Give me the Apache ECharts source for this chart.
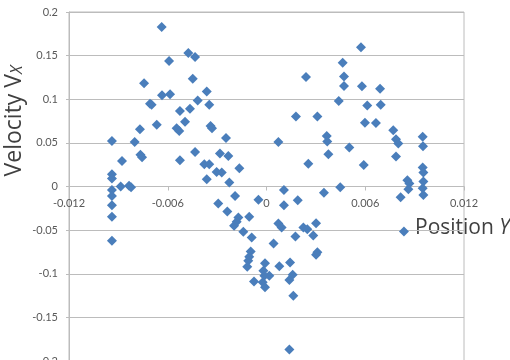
<!DOCTYPE html>
<html>
<head>
<meta charset="utf-8">
<script src="https://cdn.jsdelivr.net/npm/echarts@6/dist/echarts.min.js"></script>
<style>
html,body{margin:0;padding:0;background:#fff;}
#chart{width:510px;height:360px;}
</style>
</head>
<body>
<div id="chart"></div>
<script>
// Position Y values
var xValues = [
 -0.00939,-0.00939,-0.00939,-0.00939,-0.00939,-0.00939,-0.00939,-0.00939,
 -0.00886,-0.00835,-0.00823,-0.00878,-0.00801,-0.00769,-0.00766,-0.00756,
 -0.00744,-0.00708,-0.00698,-0.00667,-0.00637,-0.00635,-0.00586,-0.00592,
 -0.00475,-0.00434,-0.00448,-0.00363,-0.00418,-0.00348,-0.00526,-0.00465,
 -0.00495,-0.00546,-0.00530,-0.00340,-0.00331,-0.00246,-0.00526,-0.00434,
 -0.00378,-0.00348,-0.00283,-0.00232,-0.00165,-0.00303,-0.00272,-0.00363,
 -0.00226,-0.00191,-0.00293,-0.00238,-0.00049,-0.00105,-0.00171,-0.00181,
 -0.00197,-0.00141,-0.00090,0.00043,0.00106,0.00106,0.00190,0.00349,
 0.00072,0.00092,0.00224,0.00248,0.00301,0.00284,0.00176,-0.00096,
 -0.00105,-0.00111,-0.00117,0.00309,0.00301,-0.00009,0.00078,0.00143,
 -0.00019,0.00017,-0.00013,0.00159,0.00139,-0.00076,-0.00023,-0.00009,
 0.00163,0.00139,0.00072,0.00179,0.00309,0.00240,0.00366,0.00369,
 0.00376,0.00254,0.00439,0.00463,0.00471,0.00471,0.00574,0.00580,
 0.00690,0.00612,0.00694,0.00598,0.00665,0.00770,0.00787,0.00801,
 0.00503,0.00591,0.00949,0.00951,0.00949,0.00953,0.00953,0.00949,
 0.00953,0.00856,0.00868,0.00862,0.00815,0.00448,0.00835,0.00787
];
// Velocity Vx values
var yValues = [
 0.0522,0.0141,0.0092,-0.0039,-0.0108,-0.0214,-0.0348,-0.0622,
 0.0000,0.0009,-0.0008,0.0293,0.0510,0.0656,0.0364,0.0335,
 0.1182,0.0947,0.0936,0.0709,0.1828,0.1045,0.1056,0.1437,
 0.1531,0.1483,0.1236,0.1090,0.0987,0.0936,0.0865,0.0892,
 0.0741,0.0667,0.0636,0.0693,0.0667,0.0556,0.0301,0.0396,
 0.0255,0.0255,0.0378,0.0350,0.0209,0.0167,0.0160,0.0084,
 0.0046,-0.0108,-0.0195,-0.0286,-0.0151,-0.0348,-0.0355,-0.0405,
 -0.0451,-0.0519,-0.0584,-0.0654,-0.0039,-0.0214,-0.0157,-0.0073,
 -0.0423,-0.0469,-0.0469,-0.0489,-0.0420,-0.0561,-0.0572,-0.0744,
 -0.0805,-0.0851,-0.0920,-0.0755,-0.0783,-0.0881,-0.0915,-0.0870,
 -0.0966,-0.1023,-0.1023,-0.1011,-0.1072,-0.1089,-0.1098,-0.1156,
 -0.1252,-0.1867,0.0510,0.0801,0.0801,0.1254,0.0579,0.0515,
 0.0370,0.0261,0.0979,0.1419,0.1262,0.1153,0.1597,0.1148,
 0.1121,0.0927,0.0938,0.0732,0.0728,0.0644,0.0541,0.0492,
 0.0446,0.0247,0.0570,0.0461,0.0217,0.0160,0.0057,-0.0019,
 -0.0096,0.0072,0.0034,-0.0031,-0.0122,-0.0008,-0.0517,0.0343
];
var xTicks = [-0.012, -0.006, 0, 0.006, 0.012];
var yTicks = [-0.2, -0.15, -0.1, -0.05, 0, 0.05, 0.1, 0.15, 0.2];
var xTitle = 'Position ';
var xTitleVar = 'Y';
var yTitle = 'Velocity V';
var yTitleSub = 'X';

var points = xValues.map(function (x, i) { return [x, yValues[i]]; });

var gridTop = 12, gridHeight = 349;
var yMin = yTicks[0], yMax = yTicks[yTicks.length - 1];
// place the x axis where y = 0 crosses the grid
var zeroOffset = -gridHeight * (0 - yMin) / (yMax - yMin);

var chart = echarts.init(document.getElementById('chart'), null, {renderer: 'canvas'});
var gridColor = '#bcbcbc';
var labelColor = '#595959';
chart.setOption({
  animation: false,
  backgroundColor: '#ffffff',
  textStyle: {fontFamily: 'Lato'},
  grid: {left: 69, top: gridTop, width: 395, height: gridHeight, show: true, borderColor: gridColor, borderWidth: 1,
         containLabel: false, outerBoundsMode: 'none'},
  xAxis: {
    type: 'value', min: xTicks[0], max: xTicks[xTicks.length - 1],
    interval: xTicks[1] - xTicks[0],
    position: 'bottom', offset: zeroOffset,
    axisLine: {onZero: false, lineStyle: {color: gridColor}},
    axisTick: {show: true, length: 4, lineStyle: {color: gridColor}},
    axisLabel: {color: labelColor, fontSize: 11, fontFamily: 'Lato', margin: 11,
      formatter: function (v) { return String(Math.round(v * 1000) / 1000); }},
    splitLine: {show: false}
  },
  yAxis: {
    type: 'value', min: yMin, max: yMax,
    interval: yTicks[1] - yTicks[0],
    axisLine: {show: true, onZero: false, lineStyle: {color: gridColor}},
    axisTick: {show: true, length: 3, lineStyle: {color: gridColor}},
    axisLabel: {color: labelColor, fontSize: 11, fontFamily: 'Lato', margin: 11,
      formatter: function (v) { return String(Math.round(v * 100) / 100); }},
    splitLine: {show: true, lineStyle: {color: gridColor, width: 1}}
  },
  graphic: [
    {
      type: 'text', x: 14, y: 121, rotation: Math.PI / 2,
      style: {
        text: '{a|' + yTitle + '}{b|' + yTitleSub + '}',
        align: 'center', verticalAlign: 'middle',
        rich: {
          a: {fontFamily: 'Open Sans', fontSize: 23, fill: '#404040', verticalAlign: 'bottom'},
          b: {fontFamily: 'Open Sans', fontSize: 16, fontStyle: 'italic', fill: '#404040', verticalAlign: 'bottom'}
        }
      }
    },
    {
      type: 'text', x: 415, y: 228,
      style: {
        text: '{a|' + xTitle + '}{b|' + xTitleVar + '}',
        align: 'left', verticalAlign: 'middle',
        rich: {
          a: {fontFamily: 'Open Sans', fontSize: 21, fill: '#404040'},
          b: {fontFamily: 'Open Sans', fontSize: 21, fontStyle: 'italic', fill: '#404040'}
        }
      }
    }
  ],
  series: [{
    type: 'scatter',
    symbol: 'diamond',
    symbolSize: 10,
    itemStyle: {color: '#4a7ebb', opacity: 1},
    data: points
  }]
});
</script>
</body>
</html>
